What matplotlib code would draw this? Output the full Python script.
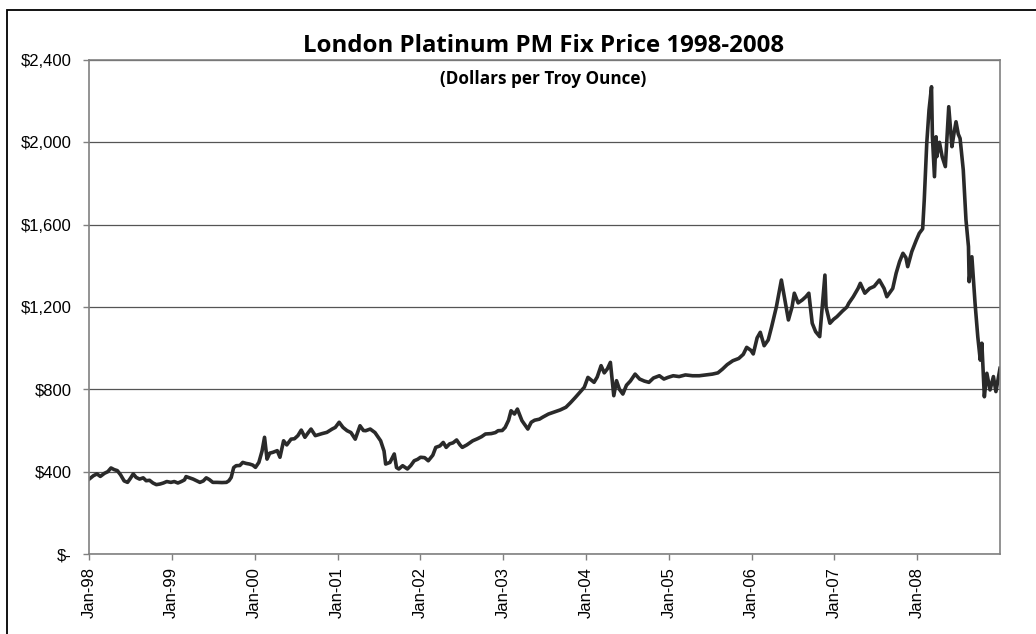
import numpy as np
import pandas as pd
import matplotlib
matplotlib.use("Agg")
import matplotlib.pyplot as plt
import matplotlib.dates as mdates
from matplotlib.patches import Rectangle
from matplotlib.ticker import FuncFormatter, MultipleLocator

# London PM fix (dollars per troy ounce)
dates = [
    "1998-01-02", "1998-01-20", "1998-02-05", "1998-02-20", "1998-03-10", "1998-03-25",
    "1998-04-08", "1998-04-22", "1998-05-06", "1998-05-20", "1998-06-05", "1998-06-20",
    "1998-07-01", "1998-07-15", "1998-07-28", "1998-08-12", "1998-08-28", "1998-09-10",
    "1998-09-25", "1998-10-10", "1998-10-25", "1998-11-10", "1998-11-25", "1998-12-10",
    "1998-12-28",
    "1999-01-12", "1999-01-28", "1999-02-12", "1999-02-26", "1999-03-05", "1999-03-20",
    "1999-04-05", "1999-04-20", "1999-05-05", "1999-05-20", "1999-06-02", "1999-06-15",
    "1999-07-01", "1999-07-20", "1999-08-10", "1999-08-30", "1999-09-10", "1999-09-20",
    "1999-10-01", "1999-10-12", "1999-10-28", "1999-11-10", "1999-11-25", "1999-12-10",
    "1999-12-24",
    "2000-01-05", "2000-01-20", "2000-02-03", "2000-02-14", "2000-02-25", "2000-03-08",
    "2000-03-22", "2000-04-10", "2000-04-22", "2000-05-08", "2000-05-22", "2000-06-10",
    "2000-06-25", "2000-07-10", "2000-07-25", "2000-08-10", "2000-08-25", "2000-09-06",
    "2000-09-25", "2000-10-10", "2000-10-25", "2000-11-15", "2000-12-08", "2000-12-22",
    "2001-01-08", "2001-01-25", "2001-02-12", "2001-03-01", "2001-03-20", "2001-04-10",
    "2001-04-25", "2001-05-05", "2001-05-25", "2001-06-15", "2001-07-10", "2001-07-25",
    "2001-08-01", "2001-08-20", "2001-09-08", "2001-09-18", "2001-09-28", "2001-10-15",
    "2001-11-05", "2001-11-20", "2001-12-05", "2001-12-20",
    "2002-01-02", "2002-01-20", "2002-02-05", "2002-02-25", "2002-03-10", "2002-03-28",
    "2002-04-12", "2002-04-25", "2002-05-10", "2002-05-25", "2002-06-10", "2002-06-25",
    "2002-07-05", "2002-07-25", "2002-08-20", "2002-09-10", "2002-09-28", "2002-10-15",
    "2002-11-10", "2002-11-28", "2002-12-10", "2002-12-28",
    "2003-01-10", "2003-01-25", "2003-02-05", "2003-02-20", "2003-03-05", "2003-03-25",
    "2003-04-20", "2003-05-05", "2003-05-20", "2003-06-10", "2003-06-25", "2003-07-20",
    "2003-08-15", "2003-09-10", "2003-10-05", "2003-10-25", "2003-11-15", "2003-12-05",
    "2003-12-25",
    "2004-01-10", "2004-01-25", "2004-02-06", "2004-02-20", "2004-03-08", "2004-03-22",
    "2004-04-05", "2004-04-18", "2004-05-03", "2004-05-15", "2004-05-28", "2004-06-12",
    "2004-06-28", "2004-07-15", "2004-08-05", "2004-08-25", "2004-09-15", "2004-10-05",
    "2004-10-25", "2004-11-20", "2004-12-10", "2004-12-28",
    "2005-01-20", "2005-02-15", "2005-03-15", "2005-04-15", "2005-05-15", "2005-06-15",
    "2005-07-12", "2005-08-05", "2005-08-25", "2005-09-15", "2005-10-10", "2005-11-05",
    "2005-11-25", "2005-12-10", "2005-12-28",
    "2006-01-08", "2006-01-25", "2006-02-08", "2006-02-25", "2006-03-15", "2006-03-30",
    "2006-04-20", "2006-05-12", "2006-05-25", "2006-06-12", "2006-06-28", "2006-07-08",
    "2006-07-25", "2006-08-12", "2006-08-28", "2006-09-10", "2006-09-25", "2006-10-10",
    "2006-10-28", "2006-11-20", "2006-11-25", "2006-12-12", "2006-12-28",
    "2007-01-12", "2007-02-05", "2007-02-25", "2007-03-05", "2007-03-25", "2007-04-15",
    "2007-04-25", "2007-05-15", "2007-06-05", "2007-06-25", "2007-07-18", "2007-08-08",
    "2007-08-20", "2007-09-15", "2007-09-30", "2007-10-15", "2007-10-30", "2007-11-12",
    "2007-11-20", "2007-12-08", "2007-12-28",
    "2008-01-10", "2008-01-25", "2008-02-01", "2008-02-12", "2008-02-22", "2008-03-04",
    "2008-03-08", "2008-03-17", "2008-03-24", "2008-03-27", "2008-04-08", "2008-04-20",
    "2008-05-04", "2008-05-19", "2008-06-02", "2008-06-12", "2008-06-20", "2008-06-30",
    "2008-07-08", "2008-07-22", "2008-08-03", "2008-08-14", "2008-08-17", "2008-08-29",
    "2008-09-12", "2008-09-24", "2008-10-05", "2008-10-12", "2008-10-23", "2008-11-03",
    "2008-11-17", "2008-12-02", "2008-12-13", "2008-12-31",
]
prices = [
    364, 380, 389, 377, 392, 400, 418, 410, 405, 385, 355, 348,
    365, 389, 372, 364, 370, 356, 358, 345, 337, 340, 345, 352,
    348,
    352, 345, 352, 360, 376, 370, 364, 356, 348, 355, 370, 362,
    348, 348, 347, 348, 356, 372, 420, 429, 430, 445, 440, 437,
    432,
    421, 445, 500, 567, 461, 490, 494, 502, 470, 550, 530, 558,
    560, 575, 602, 567, 590, 607, 575, 580, 585, 591, 607, 615,
    640, 615, 599, 590, 558, 623, 600, 599, 607, 590, 550, 500,
    437, 445, 486, 420, 413, 429, 413, 430, 453, 460,
    470, 468, 453, 480, 518, 525, 542, 518, 535, 540, 554, 530,
    518, 530, 550, 560, 570, 583, 585, 590, 599, 600,
    615, 650, 696, 680, 704, 648, 607, 640, 650, 655, 665, 680,
    690, 700, 713, 735, 760, 785, 810,
    858, 845, 834, 860, 915, 880, 900, 931, 769, 842, 800, 777,
    820, 840, 874, 850, 840, 834, 855, 866, 850, 858,
    866, 862, 870, 866, 866, 870, 874, 880, 898, 920, 939, 950,
    970, 1004, 990,
    972, 1050, 1077, 1012, 1040, 1104, 1201, 1331, 1250, 1137, 1200, 1267,
    1220, 1234, 1250, 1267, 1121, 1080, 1056, 1355, 1200, 1121, 1140,
    1153, 1180, 1200, 1218, 1250, 1290, 1315, 1267, 1290, 1300, 1331, 1290,
    1250, 1290, 1364, 1420, 1461, 1440, 1396, 1469, 1525,
    1558, 1580, 1720, 1995, 2157, 2270, 2027, 1833, 2027, 1930, 2000, 1930,
    1882, 2173, 1979, 2050, 2100, 2040, 2019, 1866, 1623, 1493, 1323, 1444,
    1218, 1056, 942, 1024, 764, 878, 797, 862, 789, 902,
]

title = "London Platinum PM Fix Price 1998-2008"
subtitle = "(Dollars per Troy Ounce)"

x = pd.to_datetime(dates)

fig = plt.figure(figsize=(10.36, 6.34), dpi=100)
fig.patch.set_facecolor("white")

# outer chart frame, only left and top edges fall inside the picture
fig.patches.append(Rectangle((7 / 1036, -0.2), 1.5, 0.2 + 1 - 10 / 634,
                             transform=fig.transFigure, fill=False,
                             edgecolor="black", linewidth=1.3))

ax = fig.add_axes([89 / 1036, 1 - 554 / 634, 911 / 1036, 494 / 634])
ax.plot(x, prices, color="#2a2a2a", linewidth=2.6, solid_joinstyle="round")

ax.set_ylim(0, 2400)
ax.set_xlim(pd.Timestamp("1998-01-01"), pd.Timestamp("2008-12-31"))
ax.yaxis.set_major_locator(MultipleLocator(400))
ax.yaxis.set_major_formatter(FuncFormatter(lambda v, p: "$-" if v == 0 else f"${v:,.0f}"))
ax.xaxis.set_major_locator(mdates.YearLocator())
ax.xaxis.set_major_formatter(mdates.DateFormatter("%b-%y"))

ax.grid(axis="y", color="#555555", linewidth=0.9)
ax.set_axisbelow(True)
for s in ax.spines.values():
    s.set_color("#808080")
    s.set_linewidth(1.2)

ax.tick_params(axis="both", direction="out", length=4.3, width=1, color="#808080",
               labelsize=12, labelcolor="black")
ax.tick_params(axis="y", pad=8)
ax.tick_params(axis="x", pad=5)
for lab in ax.get_xticklabels():
    lab.set_rotation(90)
for lab in ax.get_xticklabels() + ax.get_yticklabels():
    lab.set_fontfamily("Liberation Sans")

fig.text(544 / 1036, 1 - 52 / 634, title, ha="center", va="baseline",
         fontsize=17.3, fontweight="bold", family="Open Sans")
fig.text(543 / 1036, 1 - 79 / 634, subtitle, ha="center", va="center",
         fontsize=12.3, fontweight="bold", family="Open Sans")

fig.savefig("out.png", dpi=100)
